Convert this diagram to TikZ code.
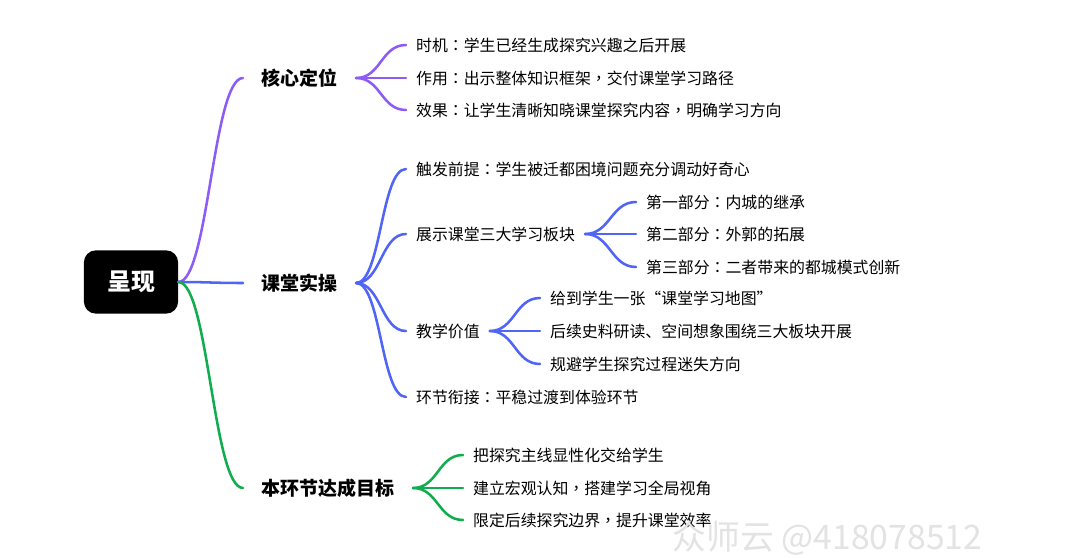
\documentclass[tikz,border=0pt]{standalone}
\usepackage{fontspec}
\setmainfont{Noto Sans CJK SC}
\newfontfamily\tcfont{Noto Sans CJK TC}
\usepackage{tikz}
\usepackage{xcolor}
\definecolor{violet1}{HTML}{8C5CF5}
\definecolor{bleu1}{HTML}{5064F5}
\definecolor{vert1}{HTML}{10AD4F}
% ponctuation centree
\newcommand{\pdeux}{{\tcfont ：}}
\newcommand{\pvirg}{{\tcfont ，}}

\begin{document}
\begin{tikzpicture}[x=0.025cm,y=-0.025cm,
  racine/.style={fill=black,text=white,rounded corners=8.5pt,minimum width=67pt,minimum height=45pt,font=\bfseries\fontsize{17}{20}\selectfont},
  theme/.style={anchor=west,inner xsep=13pt,font=\bfseries\fontsize{13.5}{16}\selectfont},
  feuille/.style={anchor=west,inner xsep=7pt,font=\fontsize{11.3}{14}\selectfont},
  branche/.style={line width=1.8pt,line cap=round}]
% fond blanc
\useasboundingbox[fill=white] (0,0) rectangle (1073,558);
\node[racine] (r) at (131,282) {呈现};
    \node[theme] (k1) at (243,78) {核心定位};
    \node[theme] (k2) at (243,283) {课堂实操};
    \node[theme] (k3) at (243,488) {本环节达成目标};
% premier groupe
    \node[feuille] (a1) at (406,45) {时机\pdeux 学生已经生成探究兴趣之后开展};
    \node[feuille] (a2) at (406,78) {作用\pdeux 出示整体知识框架\pvirg 交付课堂学习路径};
    \node[feuille] (a3) at (406,110) {效果\pdeux 让学生清晰知晓课堂探究内容\pvirg 明确学习方向};
% deuxieme groupe
    \node[feuille] (b1) at (406,169) {触发前提\pdeux 学生被迁都困境问题充分调动好奇心};
    \node[feuille] (b2) at (406,234) {展示课堂三大学习板块};
    \node[feuille] (b3) at (406,331) {教学价值};
    \node[feuille] (b4) at (406,397) {环节衔接\pdeux 平稳过渡到体验环节};
    \node[feuille] (c1) at (636,202) {第一部分\pdeux 内城的继承};
    \node[feuille] (c2) at (636,234) {第二部分\pdeux 外郭的拓展};
    \node[feuille] (c3) at (636,267) {第三部分\pdeux 二者带来的都城模式创新};
    \node[feuille] (d1) at (540,298) {给到学生一张“课堂学习地图”};
    \node[feuille] (d2) at (540,331) {后续史料研读、空间想象围绕三大板块开展};
    \node[feuille] (d3) at (540,364) {规避学生探究过程迷失方向};
% troisieme groupe
    \node[feuille] (e1) at (463,455) {把探究主线显性化交给学生};
    \node[feuille] (e2) at (463,488) {建立宏观认知\pvirg 搭建学习全局视角};
    \node[feuille] (e3) at (463,520) {限定后续探究边界\pvirg 提升课堂效率};
\begin{scope}[branche]
    \draw[violet1] (r.east) .. controls +(30,0) and +(-30,0) .. (k1.west);
    \draw[bleu1] (r.east) .. controls +(30,0) and +(-30,0) .. (k2.west);
    \draw[vert1] (r.east) .. controls +(30,0) and +(-30,0) .. (k3.west);
    \foreach \f in {a1,a2,a3}
        \draw[violet1] (k1.east) .. controls +(25,0) and +(-25,0) .. (\f.west);
    \foreach \f in {b1,b2,b3,b4}
        \draw[bleu1] (k2.east) .. controls +(25,0) and +(-25,0) .. (\f.west);
    \foreach \f in {c1,c2,c3}
        \draw[bleu1] (b2.east) .. controls +(25,0) and +(-25,0) .. (\f.west);
    \foreach \f in {d1,d2,d3}
        \draw[bleu1] (b3.east) .. controls +(25,0) and +(-25,0) .. (\f.west);
    \foreach \f in {e1,e2,e3}
        \draw[vert1] (k3.east) .. controls +(25,0) and +(-25,0) .. (\f.west);
\end{scope}
% filigrane
    \node[anchor=west,text=gray!22,font=\fontsize{24}{24}\selectfont] (w) at (668,538) {众师云 @418078512};
\end{tikzpicture}
\end{document}
